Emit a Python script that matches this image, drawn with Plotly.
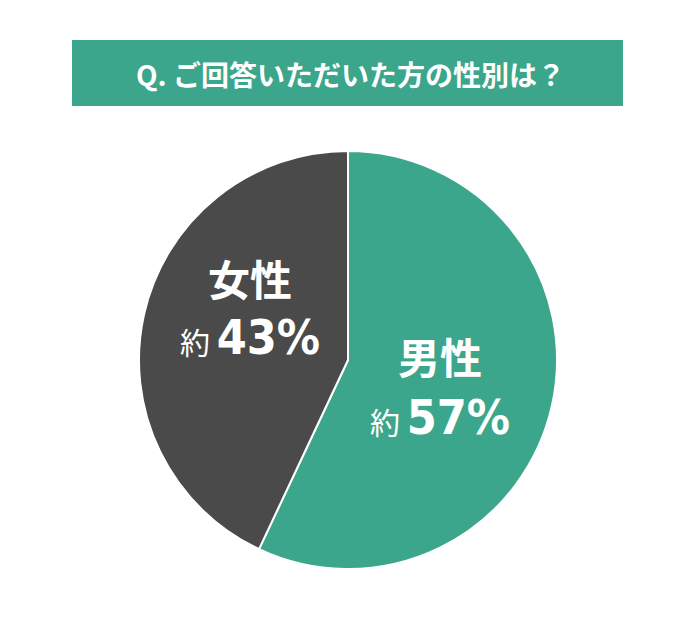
import plotly.graph_objects as go

# survey answer: gender of respondents
title_text = "Q. ご回答いただいた方の性別は？"
labels = ["男性", "女性"]
shares = [57, 43]
colors = ["#3ba68b", "#4a4a4a"]

# page puts the plot 8px in from the corner, so work in page pixels and shift
OFF = 8
W, H = 696 - 2 * OFF, 626 - 2 * OFF
cx, cy, r = 348, 360, 209


def px_x(x):
    return (x - OFF) / W


def px_y(y):
    return 1 - (y - OFF) / H


fig = go.Figure(go.Pie(
    labels=labels,
    values=shares,
    sort=False,
    direction="clockwise",
    rotation=0,
    textinfo="none",
    hoverinfo="label+percent",
    marker=dict(colors=colors, line=dict(color="white", width=2)),
    domain=dict(x=[px_x(cx - r), px_x(cx + r)],
                y=[px_y(cy + r), px_y(cy - r)]),
    showlegend=False,
))

# green banner holding the question
fig.add_shape(type="rect", xref="paper", yref="paper",
              x0=px_x(72), x1=px_x(623), y0=px_y(106), y1=px_y(40),
              fillcolor="#3ba68b", line_width=0, layer="below")
fig.add_annotation(x=px_x(350), y=px_y(74), xref="paper", yref="paper",
                   xanchor="center", yanchor="middle",
                   text="<b>" + title_text + "</b>", showarrow=False,
                   font=dict(family="Noto Sans CJK JP", size=28, color="white"))

NUM_FONT = "DejaVu Sans Condensed, Roboto, sans-serif"


# labels inside the slices
def slice_label(name, pct, x, y, y2):
    fig.add_annotation(x=px_x(x), y=px_y(y), xref="paper", yref="paper",
                       xanchor="center", yanchor="middle",
                       text="<b>" + name + "</b>", showarrow=False,
                       font=dict(family="Noto Sans CJK JP", size=42, color="white"))
    fig.add_annotation(
        x=px_x(x), y=px_y(y2), xref="paper", yref="paper",
        xanchor="center", yanchor="middle",
        text="<span style='font-family:Noto Sans CJK JP;font-size:30px'>約 </span>"
             "<b>" + str(pct) + "%</b>",
        showarrow=False,
        font=dict(family=NUM_FONT, size=48, color="white"))


slice_label(labels[1], shares[1], 250, 277, 337)
slice_label(labels[0], shares[0], 440, 355, 417)

fig.update_layout(width=W, height=H, margin=dict(l=0, r=0, t=0, b=0),
                  paper_bgcolor="white", plot_bgcolor="white")

fig.write_html("out.html")
